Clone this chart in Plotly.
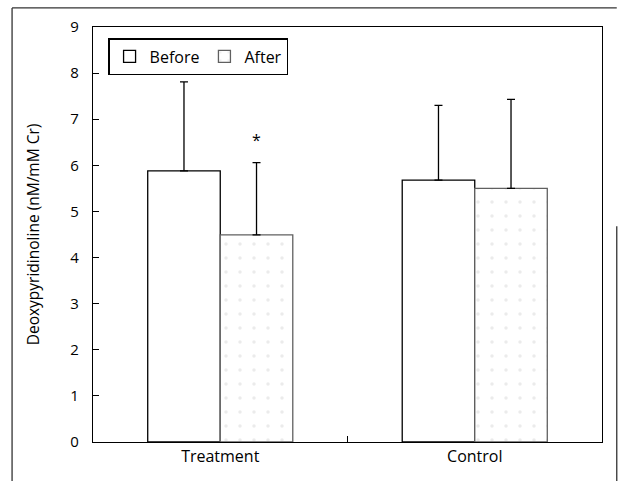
import plotly.graph_objects as go

categories = ["Treatment", "Control"]
before_means = [5.88, 5.68]
before_sd = [1.93, 1.62]
after_means = [4.49, 5.50]
after_sd = [1.57, 1.93]
y_ticks = [0, 1, 2, 3, 4, 5, 6, 7, 8, 9]
star_pos = ("Treatment", 6.55)

FONT = "Open Sans"

fig = go.Figure()
fig.add_trace(go.Bar(
    name="Before", x=categories, y=before_means,
    marker=dict(color="white", line=dict(color="black", width=1.3)),
    error_y=dict(type="data", array=before_sd, arrayminus=[0, 0], symmetric=False,
                 color="black", thickness=1.3, width=4),
))
fig.add_trace(go.Bar(
    name="After", x=categories, y=after_means,
    marker=dict(color="white", line=dict(color="#606060", width=1.3),
                pattern=dict(shape=".", fgcolor="#d8d8d8", bgcolor="white", size=14, solidity=0.05)),
    error_y=dict(type="data", array=after_sd, arrayminus=[0, 0], symmetric=False,
                 color="black", thickness=1.3, width=4),
))

fig.add_annotation(x=star_pos[0], y=star_pos[1], text="*", showarrow=False,
                   xshift=36, font=dict(size=16, color="black", family=FONT))

# outer scan frame
frame = dict(type="line", xref="paper", yref="paper", line=dict(color="#333333", width=1.3))
fig.add_shape(**frame, x0=-0.159, x1=-0.159, y0=1.046, y1=-0.094)
fig.add_shape(**frame, x0=-0.159, x1=1.029, y0=1.046, y1=1.046)
fig.add_shape(**frame, x0=1.029, x1=1.029, y0=0.52, y1=-0.094)

fig.update_layout(
    width=618, height=481,
    margin=dict(l=93, r=16, t=27, b=39),
    paper_bgcolor="white", plot_bgcolor="white",
    barmode="group", bargap=0.43, bargroupgap=0,
    font=dict(family=FONT, size=15, color="black"),
    showlegend=True,
    legend=dict(orientation="h", x=0.03, y=0.973, xanchor="left", yanchor="top",
                bordercolor="black", borderwidth=1.3, bgcolor="white",
                font=dict(size=16, family=FONT), itemwidth=30, tracegroupgap=0),
    xaxis=dict(range=[-0.5, 1.5], showline=True, linecolor="black", linewidth=1.3,
               mirror=True, ticks="inside", tickson="boundaries", ticklen=6,
               tickcolor="black", tickfont=dict(size=16, family=FONT), showgrid=False),
    yaxis=dict(range=[0, 9], tickvals=y_ticks, showline=True, linecolor="black", linewidth=1.3,
               mirror=True, ticks="inside", ticklen=6, tickcolor="black",
               ticklabelstandoff=10,
               tickfont=dict(size=15, family=FONT), showgrid=False, zeroline=False,
               title=dict(text="Deoxypyridinoline (nM/mM Cr)", font=dict(size=15.5, family=FONT),
                          standoff=26)),
)

fig.write_html("out.html", post_script="document.body.style.margin='0';",
               config={"displayModeBar": False})
